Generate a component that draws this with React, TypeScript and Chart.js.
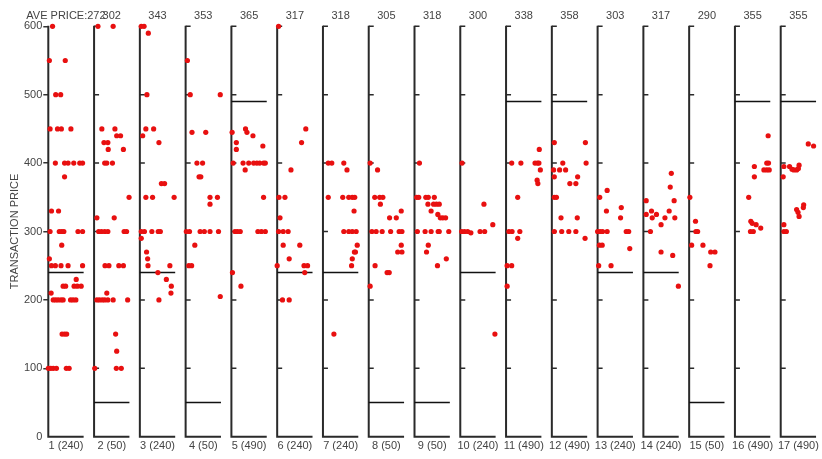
import React, { useEffect, useRef } from "react";
import { Chart, registerables } from "chart.js";

Chart.register(...registerables);

// ---------- data ----------
const panelNumbers = [1, 2, 3, 4, 5, 6, 7, 8, 9, 10, 11, 12, 13, 14, 15, 16, 17];
const refPrices = [240, 50, 240, 50, 490, 240, 240, 50, 50, 240, 490, 490, 240, 240, 50, 490, 490];
const avePrices = [272, 302, 343, 353, 365, 317, 318, 305, 318, 300, 338, 358, 303, 317, 290, 355, 355];
const yTickValues = [0, 100, 200, 300, 400, 500, 600];

// each point: [position across the panel (0..1), transaction price]
const panel1 = [
  [0.12, 600], [0.03, 550], [0.48, 550], [0.21, 500], [0.35, 500],
  [0.05, 450], [0.26, 450], [0.37, 450], [0.64, 450],
  [0.2, 400], [0.46, 400], [0.56, 400], [0.72, 400], [0.89, 400], [0.97, 400],
  [0.46, 380], [0.09, 330], [0.29, 330],
  [0.05, 300], [0.31, 300], [0.38, 300], [0.44, 300], [0.84, 300], [0.97, 300],
  [0.38, 280], [0.03, 260],
  [0.09, 250], [0.2, 250], [0.36, 250], [0.56, 250], [0.97, 250],
  [0.79, 230],
  [0.42, 220], [0.49, 220], [0.73, 220], [0.82, 220], [0.93, 220],
  [0.08, 210],
  [0.14, 200], [0.21, 200], [0.28, 200], [0.36, 200], [0.42, 200], [0.63, 200], [0.7, 200], [0.78, 200],
  [0.39, 150], [0.46, 150], [0.52, 150],
  [0.0, 100], [0.07, 100], [0.14, 100], [0.23, 100], [0.51, 100], [0.59, 100],
];
const panel2 = [
  [0.11, 600], [0.54, 600],
  [0.22, 450], [0.59, 450], [0.64, 440], [0.75, 440],
  [0.28, 430], [0.39, 430], [0.4, 420], [0.83, 420],
  [0.3, 400], [0.36, 400], [0.52, 400],
  [0.99, 350], [0.08, 320], [0.57, 320],
  [0.13, 300], [0.21, 300], [0.3, 300], [0.39, 300], [0.85, 300], [0.92, 300],
  [0.31, 250], [0.42, 250], [0.7, 250], [0.83, 250],
  [0.36, 210],
  [0.08, 200], [0.15, 200], [0.23, 200], [0.3, 200], [0.39, 200], [0.54, 200], [0.95, 200],
  [0.61, 150], [0.64, 125],
  [0.02, 100], [0.63, 100], [0.77, 100],
];
const panel3 = [
  [0.04, 600], [0.12, 600], [0.24, 590], [0.2, 500],
  [0.17, 450], [0.39, 450], [0.08, 440], [0.54, 430],
  [0.61, 370], [0.7, 370],
  [0.17, 350], [0.36, 350], [0.97, 350],
  [0.04, 300], [0.13, 300], [0.34, 300], [0.52, 300], [0.58, 300],
  [0.04, 290], [0.19, 270], [0.22, 260],
  [0.23, 250], [0.85, 250],
  [0.51, 240], [0.75, 230], [0.89, 220], [0.88, 210], [0.54, 200],
];
const panel4 = [
  [0.05, 550], [0.13, 500], [0.98, 500],
  [0.18, 445], [0.57, 445],
  [0.32, 400], [0.48, 400], [0.38, 380], [0.43, 380],
  [0.69, 350], [0.9, 350], [0.69, 340],
  [0.02, 300], [0.11, 300], [0.41, 300], [0.53, 300], [0.69, 300], [0.93, 300],
  [0.26, 280], [0.09, 250], [0.17, 250], [0.98, 205],
];
const panel5 = [
  [0.02, 445], [0.4, 450], [0.44, 445], [0.61, 440], [0.14, 430], [0.14, 420], [0.89, 425],
  [0.05, 400], [0.33, 400], [0.49, 400], [0.63, 400], [0.72, 400], [0.8, 400], [0.91, 400], [0.96, 400],
  [0.39, 390], [0.91, 350],
  [0.1, 300], [0.17, 300], [0.25, 300], [0.75, 300], [0.85, 300], [0.96, 300],
  [0.03, 240], [0.27, 220],
];
const panel6 = [
  [0.04, 600], [0.81, 450], [0.69, 430], [0.39, 390],
  [0.05, 350], [0.22, 350], [0.08, 320],
  [0.04, 300], [0.17, 300], [0.31, 300],
  [0.17, 280], [0.64, 280], [0.34, 260],
  [0.0, 250], [0.76, 250], [0.86, 250], [0.78, 240],
  [0.15, 200], [0.34, 200],
];
const panel7 = [
  [0.15, 400], [0.25, 400], [0.59, 400], [0.68, 390],
  [0.15, 350], [0.56, 350], [0.73, 350], [0.83, 350], [0.9, 350],
  [0.88, 330],
  [0.59, 300], [0.73, 300], [0.83, 300], [0.94, 300],
  [0.97, 280], [0.89, 270], [0.92, 270], [0.83, 260], [0.81, 250],
  [0.31, 150],
];
const panel8 = [
  [0.04, 400], [0.25, 390],
  [0.17, 350], [0.31, 350], [0.4, 350], [0.33, 340], [0.92, 330],
  [0.59, 320], [0.78, 320],
  [0.09, 300], [0.21, 300], [0.38, 300], [0.62, 300], [0.86, 300], [0.94, 300],
  [0.92, 280], [0.82, 270], [0.94, 270],
  [0.18, 250], [0.52, 240], [0.58, 240], [0.04, 220],
];
const panel9 = [
  [0.14, 400],
  [0.06, 350], [0.12, 350], [0.32, 350], [0.39, 350], [0.56, 350],
  [0.38, 340], [0.54, 340], [0.62, 340], [0.7, 340],
  [0.47, 330], [0.66, 325], [0.73, 320], [0.8, 320], [0.88, 320],
  [0.08, 300], [0.3, 300], [0.47, 300], [0.67, 300], [0.7, 300], [0.97, 300],
  [0.39, 280], [0.34, 270], [0.9, 260], [0.65, 250],
];
const panel10 = [
  [0.05, 400], [0.67, 340], [0.92, 310],
  [0.04, 300], [0.12, 300], [0.21, 300], [0.3, 298], [0.56, 300], [0.69, 300],
  [0.98, 150],
];
const panel11 = [
  [0.94, 420],
  [0.16, 400], [0.42, 400], [0.82, 400], [0.89, 400], [0.93, 400],
  [0.97, 390], [0.88, 375], [0.9, 370], [0.33, 350],
  [0.08, 300], [0.17, 300], [0.39, 300], [0.33, 290],
  [0.03, 250], [0.16, 250], [0.03, 220],
];
const panel12 = [
  [0.07, 430], [0.95, 430], [0.31, 400], [0.97, 400],
  [0.05, 390], [0.22, 390], [0.39, 390], [0.07, 380], [0.73, 380],
  [0.51, 370], [0.68, 370], [0.07, 350], [0.13, 350],
  [0.26, 320], [0.72, 320],
  [0.07, 300], [0.28, 300], [0.48, 300], [0.68, 300], [0.94, 290],
];
const panel13 = [
  [0.27, 360], [0.06, 350], [0.67, 335], [0.25, 330], [0.65, 320],
  [0.0, 300], [0.07, 300], [0.14, 300], [0.27, 300], [0.81, 300], [0.88, 300],
  [0.05, 280], [0.13, 280], [0.91, 275], [0.03, 250], [0.38, 250],
];
const panel14 = [
  [0.79, 385], [0.76, 365], [0.08, 345], [0.87, 345],
  [0.23, 330], [0.73, 330], [0.08, 325], [0.37, 325],
  [0.25, 320], [0.61, 320], [0.89, 320],
  [0.5, 310], [0.2, 300], [0.5, 270], [0.83, 265], [0.99, 220],
];
const panel15 = [
  [0.02, 350], [0.18, 315], [0.19, 300], [0.24, 300],
  [0.07, 280], [0.39, 280], [0.61, 270], [0.73, 270], [0.59, 250],
];
const panel16 = [
  [0.94, 440], [0.9, 400], [0.95, 400], [0.55, 395],
  [0.82, 390], [0.9, 390], [0.97, 390], [0.55, 380],
  [0.39, 350], [0.45, 315], [0.49, 312], [0.6, 310], [0.73, 305],
  [0.44, 300], [0.52, 300],
];
const panel17 = [
  [0.78, 428], [0.93, 425],
  [0.09, 395], [0.25, 395], [0.52, 397], [0.32, 391], [0.37, 390], [0.45, 390], [0.5, 392],
  [0.07, 380],
  [0.65, 339], [0.64, 335], [0.45, 332], [0.49, 328], [0.52, 322],
  [0.09, 310], [0.09, 300], [0.16, 300],
];

const panels = [
  panel1, panel2, panel3, panel4, panel5, panel6, panel7, panel8, panel9,
  panel10, panel11, panel12, panel13, panel14, panel15, panel16, panel17,
];

const bottomLabels = panelNumbers.map((n, i) => `${n} (${refPrices[i]})`);
const topLabels = avePrices.map((v, i) => (i === 0 ? `AVE PRICE:${v}` : `${v}`));

// ---------- layout constants ----------
const PANEL_W = 0.772;
const X_MAX = panelNumbers.length - 1 + PANEL_W;
const TEXT = "#444";
const FONT = "'Liberation Sans', Arial, sans-serif";

const framePlugin = {
  id: "panelFrames",
  beforeDatasetsDraw(chart: any) {
    const { ctx, scales } = chart;
    const x = scales.x;
    const y = scales.y;
    const yTop = y.getPixelForValue(600);
    const yBot = y.getPixelForValue(0);
    ctx.save();
    refPrices.forEach((ref, i) => {
      const x0 = x.getPixelForValue(i);
      const x1 = x.getPixelForValue(i + PANEL_W);
      ctx.strokeStyle = "#2a2a2a";
      ctx.lineWidth = 2;
      ctx.beginPath();
      ctx.moveTo(x0, yTop - 0.5);
      ctx.lineTo(x0, yBot + 1);
      ctx.moveTo(x0 - 1, yBot);
      ctx.lineTo(x1, yBot);
      ctx.stroke();
      if (i > 0) {
        ctx.lineWidth = 1.5;
        ctx.beginPath();
        yTickValues.forEach((v) => {
          if (v === 0) return;
          const py = y.getPixelForValue(v);
          ctx.moveTo(x0, py);
          ctx.lineTo(x0 + 5, py);
        });
        ctx.stroke();
      }
      ctx.strokeStyle = "#111";
      ctx.lineWidth = 1.5;
      ctx.beginPath();
      const ry = y.getPixelForValue(ref);
      ctx.moveTo(x0, ry);
      ctx.lineTo(x1, ry);
      ctx.stroke();
    });
    ctx.restore();
  },
};

export default function App() {
  const canvasRef = useRef<HTMLCanvasElement | null>(null);

  useEffect(() => {
    if (!canvasRef.current) return;
    Chart.defaults.font.family = FONT;
    const centers = panelNumbers.map((_, i) => i + PANEL_W / 2);
    const points = panels.flatMap((pts, i) =>
      pts.map(([f, p]) => ({ x: i + f * PANEL_W, y: p }))
    );

    const chart = new Chart(canvasRef.current, {
      type: "scatter",
      data: {
        datasets: [
          {
            data: points,
            backgroundColor: "#e81010",
            borderWidth: 0,
            pointRadius: 2.6,
            pointHoverRadius: 2.6,
            clip: false as any,
          },
        ],
      },
      options: {
        animation: false,
        responsive: false,
        events: [],
        layout: { padding: { left: 0, right: 3.3, top: 0, bottom: 0 } },
        plugins: { legend: { display: false }, tooltip: { enabled: false } },
        scales: {
          x: {
            type: "linear",
            position: "bottom",
            min: 0,
            max: X_MAX,
            grid: { display: false, drawTicks: false, tickLength: 0 },
            border: { display: false },
            afterBuildTicks: (scale: any) => {
              scale.ticks = centers.map((v) => ({ value: v }));
            },
            afterFit: (scale: any) => {
              scale.height = 22.3;
            },
            ticks: {
              autoSkip: false,
              maxRotation: 0,
              padding: 3,
              color: TEXT,
              font: { size: 11 },
              callback: (_v: any, idx: number) => bottomLabels[idx],
            },
          },
          xTop: {
            type: "linear",
            position: "top",
            min: 0,
            max: X_MAX,
            grid: { display: false, drawTicks: false, tickLength: 0 },
            border: { display: false },
            afterBuildTicks: (scale: any) => {
              scale.ticks = centers.map((v) => ({ value: v }));
            },
            afterFit: (scale: any) => {
              scale.height = 26.3;
            },
            ticks: {
              autoSkip: false,
              maxRotation: 0,
              padding: 4,
              color: TEXT,
              font: { size: 11 },
              callback: (_v: any, idx: number) => topLabels[idx],
            },
          },
          y: {
            type: "linear",
            min: 0,
            max: 600,
            afterBuildTicks: (scale: any) => {
              scale.ticks = yTickValues.map((v) => ({ value: v }));
            },
            afterFit: (scale: any) => {
              scale.width = 48.3;
            },
            grid: {
              display: true,
              drawOnChartArea: false,
              drawTicks: true,
              tickLength: 5,
              lineWidth: 1.5,
              color: (c: any) => (c.tick && c.tick.value === 0 ? "rgba(0,0,0,0)" : "#333"),
            },
            border: { display: false },
            title: {
              display: true,
              text: "TRANSACTION PRICE",
              color: TEXT,
              font: { size: 11 },
              padding: { top: 8, bottom: 0 },
            },
            ticks: {
              padding: 1,
              color: TEXT,
              font: { size: 11 },
              autoSkip: false,
            },
          },
        },
      },
      plugins: [framePlugin],
    } as any);

    return () => chart.destroy();
  }, []);

  return (
    <div style={{ position: "fixed", left: 0, top: 0, width: 822, height: 459, background: "#fff" }}>
      <canvas ref={canvasRef} width={822} height={459} style={{ display: "block" }} />
    </div>
  );
}
